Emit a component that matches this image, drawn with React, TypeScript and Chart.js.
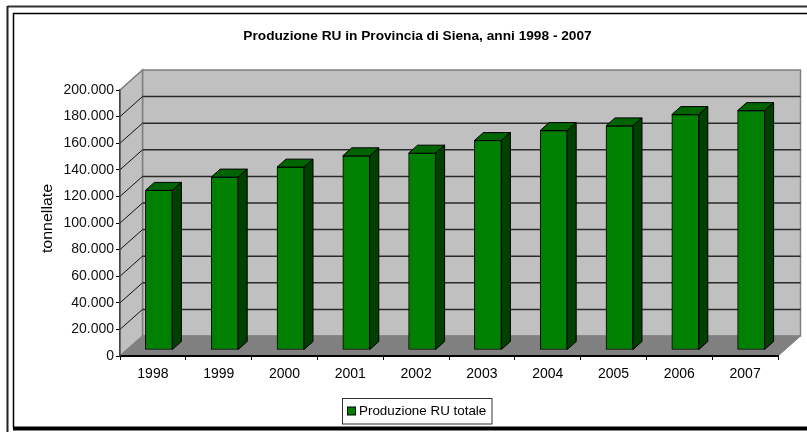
import React, { useEffect, useRef } from "react";
import { Chart, registerables } from "chart.js";

Chart.register(...registerables);

const categories = ["1998", "1999", "2000", "2001", "2002", "2003", "2004", "2005", "2006", "2007"];
const values = [120000, 130000, 137500, 146000, 148000, 157500, 165000, 168500, 177000, 180000];
const seriesName = "Produzione RU totale";
const chartTitle = "Produzione RU in Provincia di Siena, anni 1998 - 2007";
const axisTitle = "tonnellate";
const FONT = '"Liberation Sans", Arial, sans-serif';

const DEPTH_X = 22.5;
const DEPTH_Y = 20;
const BAR_SHIFT_X = 6;
const BAR_SHIFT_Y = 6;
const BAR_DX = 9;
const BAR_DY = 8;

const poly = (ctx: CanvasRenderingContext2D, pts: number[][], fill: string | null, stroke: string | null, lw = 1) => {
  ctx.beginPath();
  pts.forEach((p, i) => (i ? ctx.lineTo(p[0], p[1]) : ctx.moveTo(p[0], p[1])));
  ctx.closePath();
  if (fill) { ctx.fillStyle = fill; ctx.fill(); }
  if (stroke) { ctx.strokeStyle = stroke; ctx.lineWidth = lw; ctx.stroke(); }
};

const line = (ctx: CanvasRenderingContext2D, x1: number, y1: number, x2: number, y2: number, color: string, lw: number) => {
  ctx.beginPath();
  ctx.moveTo(x1, y1);
  ctx.lineTo(x2, y2);
  ctx.strokeStyle = color;
  ctx.lineWidth = lw;
  ctx.stroke();
};

const scene3d = {
  id: "scene3d",
  beforeDraw(chart: any) {
    const { ctx, width, height, chartArea: a, scales } = chart;
    const y = scales.y;
    ctx.save();
    ctx.fillStyle = "#fff";
    ctx.fillRect(0, 0, width, height);

    // frame
    line(ctx, 7.5, 6.5, width, 6.5, "#333", 2);
    line(ctx, 7.5, 6, 7.5, height, "#222", 2);
    line(ctx, 13, 13.5, width, 13.5, "#000", 1.5);
    line(ctx, 13.5, 13, 13.5, 428, "#000", 1.5);
    line(ctx, 13, 428.5, width, 428.5, "#000", 4);

    const bx = DEPTH_X, by = DEPTH_Y;
    // back wall
    poly(ctx, [[a.left + bx, a.top - by], [a.right + bx, a.top - by], [a.right + bx, a.bottom - by], [a.left + bx, a.bottom - by]], "#c0c0c0", "#808080", 1.5);
    // side wall
    poly(ctx, [[a.left, a.top], [a.left + bx, a.top - by], [a.left + bx, a.bottom - by], [a.left, a.bottom]], "#c0c0c0", "#808080", 1.5);
    // floor
    poly(ctx, [[a.left, a.bottom], [a.left + bx, a.bottom - by], [a.right + bx, a.bottom - by], [a.right, a.bottom]], "#808080", "#808080", 1);

    // gridlines
    y.ticks.forEach((t: any) => {
      const py = y.getPixelForValue(t.value);
      if (t.value === 0 || t.value === 200000) return;
      line(ctx, a.left + bx, py - by, a.right + bx, py - by, "#2a2a2a", 1.5);
      line(ctx, a.left, py, a.left + bx, py - by, "#111", 1);
    });
    line(ctx, a.left, a.top, a.left + bx, a.top - by, "#808080", 1);
    ctx.restore();

    // title
    ctx.save();
    ctx.fillStyle = "#000";
    ctx.textAlign = "center";
    ctx.textBaseline = "middle";
    ctx.font = `bold 13.7px ${FONT}`;
    ctx.fillText(chartTitle, 417.5, 36.5);

    // axis title
    ctx.save();
    ctx.translate(48, 218.5);
    ctx.rotate(-Math.PI / 2);
    ctx.scale(1.14, 1);
    ctx.font = `14px ${FONT}`;
    ctx.fillText(axisTitle, 0, 0);
    ctx.restore();

    // legend
    ctx.fillStyle = "#fff";
    ctx.strokeStyle = "#333";
    ctx.lineWidth = 1;
    ctx.fillRect(342, 398, 150, 26);
    ctx.strokeRect(342.5, 398.5, 149.5, 25.5);
    ctx.fillStyle = "#008000";
    ctx.fillRect(347.5, 407, 8, 8);
    ctx.strokeStyle = "#000";
    ctx.strokeRect(347.5, 407, 8, 8);
    ctx.fillStyle = "#000";
    ctx.textAlign = "left";
    ctx.font = `13.4px ${FONT}`;
    ctx.fillText(seriesName, 359, 411.5);
    ctx.restore();
  },
  beforeDatasetsDraw(chart: any) {
    chart.ctx.save();
    chart.ctx.translate(BAR_SHIFT_X, -BAR_SHIFT_Y);
  },
  afterDatasetsDraw(chart: any) {
    const { ctx } = chart;
    const bars = chart.getDatasetMeta(0).data;
    bars.forEach((b: any) => {
      const l = b.x - b.width / 2, r = b.x + b.width / 2, t = b.y, bot = b.base;
      poly(ctx, [[l, t], [l + BAR_DX, t - BAR_DY], [r + BAR_DX, t - BAR_DY], [r, t]], "#006400", "#000", 1);
      poly(ctx, [[r, t], [r + BAR_DX, t - BAR_DY], [r + BAR_DX, bot - BAR_DY], [r, bot]], "#004000", "#000", 1);
    });
    ctx.restore();
  },
};

export default function App() {
  const ref = useRef<HTMLCanvasElement>(null);
  useEffect(() => {
    const chart = new Chart(ref.current as HTMLCanvasElement, {
      type: "bar",
      data: {
        labels: categories,
        datasets: [{
          label: seriesName,
          data: values,
          backgroundColor: "#008000",
          borderColor: "#000",
          borderWidth: 1,
          borderSkipped: false,
          barThickness: 27,
        }],
      },
      options: {
        animation: false,
        responsive: false,
        devicePixelRatio: 1,
        layout: { padding: { top: 90, right: 29, left: 0, bottom: 0 } },
        plugins: { legend: { display: false }, title: { display: false }, tooltip: { enabled: false } },
        scales: {
          x: {
            afterFit: (s: any) => { s.height = 76; },
            grid: { drawOnChartArea: false, drawTicks: true, tickLength: 4, color: "#000" },
            border: { color: "#000", width: 2 },
            ticks: { color: "#000", font: { family: FONT, size: 14 }, padding: 6, maxRotation: 0 },
          },
          y: {
            min: 0,
            max: 200000,
            afterFit: (s: any) => { s.width = 120; },
            grid: { drawOnChartArea: false, drawTicks: true, tickLength: 4, color: "#000" },
            border: { color: "#444", width: 1.5 },
            ticks: {
              stepSize: 20000,
              color: "#111",
              padding: 2,
              font: { family: FONT, size: 14 },
              callback: (v: any) => String(v).replace(/\B(?=(\d{3})+$)/g, "."),
            },
          },
        },
      },
      plugins: [scene3d],
    } as any);
    return () => chart.destroy();
  }, []);
  return (
    <div style={{ position: "absolute", left: 0, top: 0, width: 807, height: 432 }}>
      <canvas ref={ref} width={807} height={432} style={{ display: "block" }} />
    </div>
  );
}
